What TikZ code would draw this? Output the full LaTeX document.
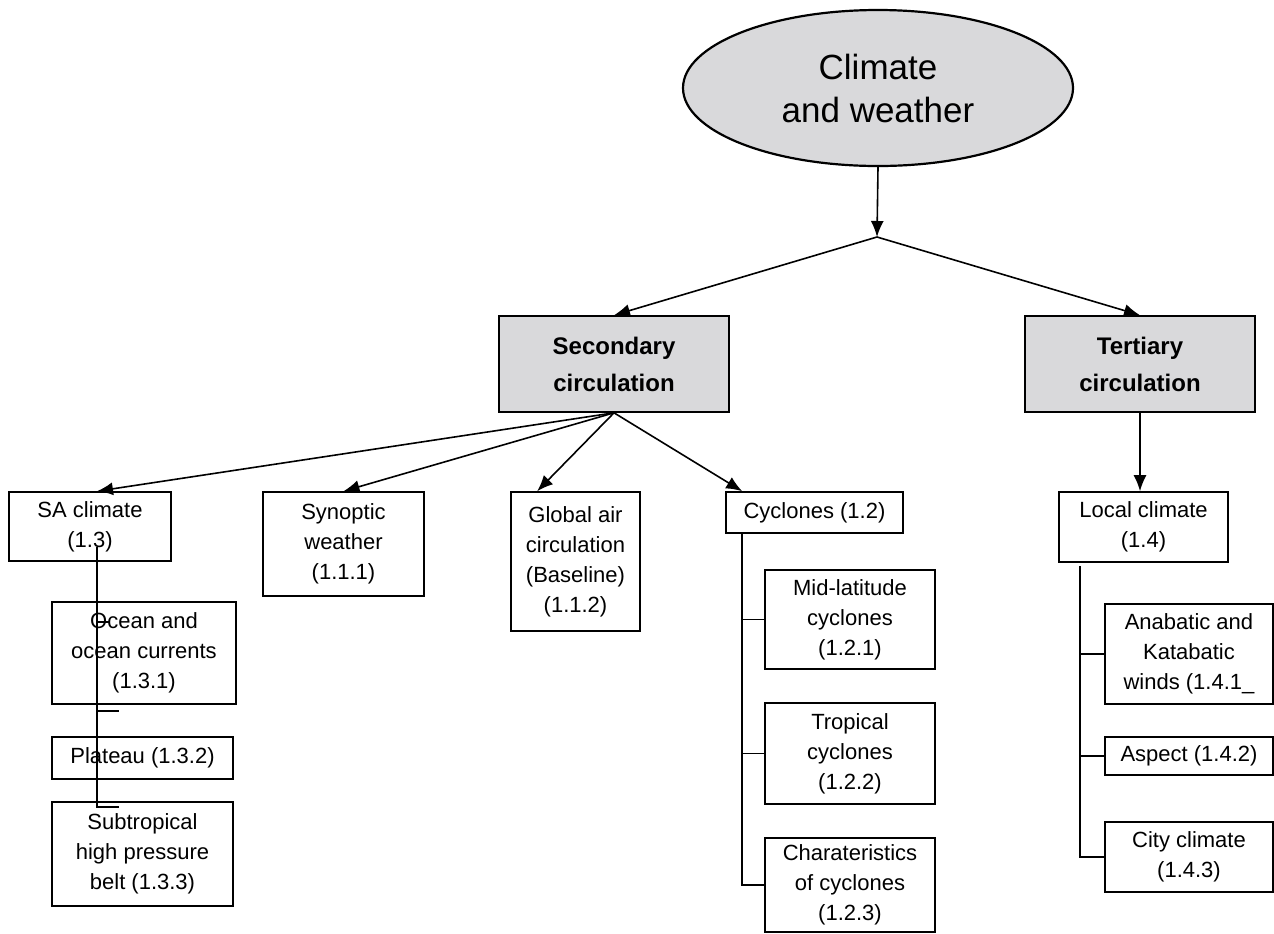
\documentclass[tikz,border=0pt]{standalone}
\usepackage{fontspec}
\setmainfont{Liberation Sans}
\usepackage{tikz}
\usepackage{xcolor}
\usetikzlibrary{calc}
\usetikzlibrary{positioning}
\usetikzlibrary{shapes.geometric}
\usetikzlibrary{arrows.meta}

\definecolor{boxgrey}{RGB}{217,217,219}

\begin{document}
\begin{tikzpicture}[x=0.5pt,y=-0.5pt,line width=0.8pt,
  arr/.style={-{Latex[length=8pt,width=6.5pt]}},
  leaf/.style={draw,align=center,inner sep=0pt,font=\fontsize{11}{15}\selectfont},
  head/.style={draw,fill=boxgrey,align=center,inner sep=0pt,minimum width=115pt,minimum height=48pt,font=\fontsize{12}{18.5}\selectfont\bfseries}]
\useasboundingbox (0,0) rectangle (1274,933);

\node[ellipse,draw,line width=1.1pt,fill=boxgrey,minimum width=195pt,minimum height=78pt,inner sep=0pt,align=center,font=\fontsize{17.5}{21.5}\selectfont] (climate) at (878,88) {Climate\\and weather};
\coordinate (split) at (877,237);

\node[head] (sec) at (614,364) {Secondary\\circulation};
\node[head] (ter) at (1140,364) {Tertiary\\circulation};

\node[leaf,minimum width=81pt,minimum height=34.5pt] (sa) at (90,526.5) {SA climate\\(1.3)};
\node[leaf,minimum width=80.5pt,minimum height=52pt] (syn) at (343.5,544) {Synoptic\\weather\\(1.1.1)};
\node[leaf,minimum width=64.5pt,minimum height=69.5pt] (glob) at (575.5,561.5) {Global air\\circulation\\(Baseline)\\(1.1.2)};
\node[leaf,minimum width=88.5pt,minimum height=20.5pt] (cyc) at (814.5,512.5) {Cyclones (1.2)};
\node[leaf,minimum width=84.5pt,minimum height=35pt] (loc) at (1143.5,527) {Local climate\\(1.4)};

\node[leaf,minimum width=92pt,minimum height=51pt] (ocean) at (144,653) {Ocean and\\ocean currents\\(1.3.1)};
\node[leaf,minimum width=90.5pt,minimum height=21pt] (plat) at (142.5,758) {Plateau (1.3.2)};
\node[leaf,minimum width=90.5pt,minimum height=52pt] (subt) at (142.5,854) {Subtropical\\high pressure\\belt (1.3.3)};

\node[leaf,minimum width=85pt,minimum height=49.5pt] (mid) at (850,619.5) {Mid-latitude\\cyclones\\(1.2.1)};
\node[leaf,minimum width=85pt,minimum height=50.5pt] (trop) at (850,753.5) {Tropical\\cyclones\\(1.2.2)};
\node[leaf,minimum width=85pt,minimum height=47pt] (char) at (850,885) {Charateristics\\of cyclones\\(1.2.3)};

\node[leaf,minimum width=84pt,minimum height=50pt] (ana) at (1189,654) {Anabatic and\\Katabatic\\winds (1.4.1\_};
\node[leaf,minimum width=84pt,minimum height=19pt] (asp) at (1189,756) {Aspect (1.4.2)};
\node[leaf,minimum width=84pt,minimum height=35pt] (city) at (1189,857) {City climate\\(1.4.3)};

\draw[arr] (climate.south) -- (split);
\draw[arr] (split) -- (sec.north);
\draw[arr] (split) -- (ter.north);

\draw[arr] (sec.south) -- ($(sa.north)+(7,0)$);
\draw[arr] (sec.south) -- (syn.north);
\draw[arr] (sec.south) -- ($(glob.north west)+(27,0)$);
\draw[arr] (sec.south) -- ($(cyc.north west)+(17,0)$);
\draw[arr] (ter.south) -- (ter.south |- loc.north);

\coordinate (cyctrunk) at ($(cyc.south west)+(17,0)$);
\draw (cyctrunk) |- (char.west);
\draw (cyctrunk |- mid.west) -- (mid.west);
\draw (cyctrunk |- trop.west) -- (trop.west);

\coordinate (loctrunk) at ($(loc.south west)+(22,3)$);
\draw (loctrunk) |- (city.west);
\draw (loctrunk |- ana.west) -- (ana.west);
\draw (loctrunk |- asp.west) -- (asp.west);

\coordinate (satop) at (97,547);
\coordinate (sabot) at (97,807);
\draw (satop) -- (sabot) -- ++(22,0);
\draw (satop |- ocean.center) ++(0,-31) -- ++(13,0);
\draw (satop |- plat.north) ++(0,-25) -- ++(22,0);
\end{tikzpicture}
\end{document}
